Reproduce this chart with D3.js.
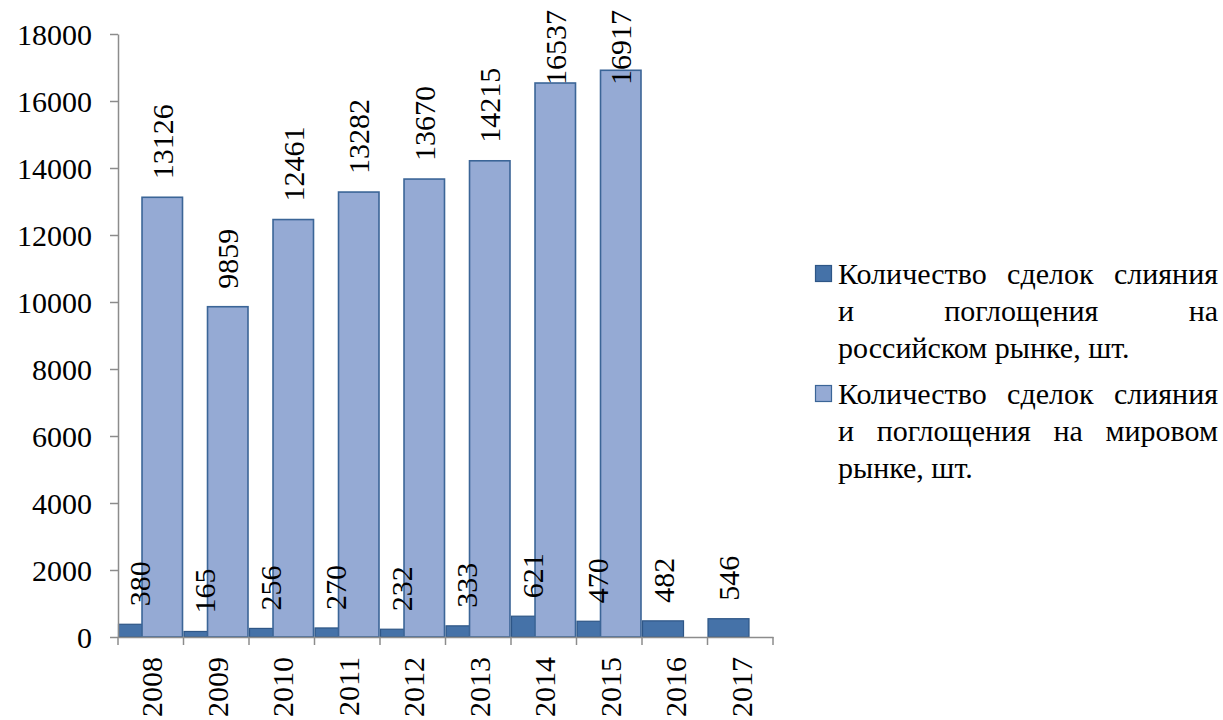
<!DOCTYPE html>
<html><head><meta charset="utf-8">
<script src="https://cdn.jsdelivr.net/npm/d3@7"></script>
</head><body style="margin:0">
<svg id="c" width="1223" height="720"></svg>
<script>
const years = ["2008","2009","2010","2011","2012","2013","2014","2015","2016","2017"];
const russia = [380,165,256,270,232,333,621,470,482,546];
const world = [13126,9859,12461,13282,13670,14215,16537,16917,null,null];
const seriesRuLines = ["Количество сделок слияния", "и поглощения на", "российском рынке, шт."];
const seriesWorldLines = ["Количество сделок слияния", "и поглощения на мировом", "рынке, шт."];
const yTicks = [0,2000,4000,6000,8000,10000,12000,14000,16000,18000];

const FONT = "Times New Roman, Liberation Serif, Tinos, serif";
const FS = 30;
const colRu = "#4572a8", strokeRu = "#2e5686";
const colW = "#95aad4", strokeW = "#3b6597";
const axisCol = "#8c8c8c";

const svg = d3.select("#c").attr("font-family", FONT);
const x = d3.scaleBand().domain(years).range([118, 773]).paddingInner(0).paddingOuter(0);
const y = d3.scaleLinear().domain([0, 18000]).range([637, 34]);
const bw = x.bandwidth();
const ruW = bw * 0.626, wW = bw * 0.618;
const styleText = sel => sel.attr("font-family", FONT).attr("font-size", FS).attr("fill", "#000");

svg.append("g").selectAll("rect").data(years.map((d,i)=>({yr:d,v:russia[i]})))
  .join("rect")
  .attr("x", d => x(d.yr) + 0.5).attr("width", ruW)
  .attr("y", d => y(d.v)).attr("height", d => y(0) - y(d.v))
  .attr("fill", colRu).attr("stroke", strokeRu).attr("stroke-width", 1.2);

const wData = years.map((d,i)=>({yr:d,v:world[i]})).filter(d => d.v != null);
svg.append("g").selectAll("rect").data(wData)
  .join("rect")
  .attr("x", d => x(d.yr) + bw - wW - 1).attr("width", wW)
  .attr("y", d => y(d.v)).attr("height", d => y(0) - y(d.v))
  .attr("fill", colW).attr("stroke", strokeW).attr("stroke-width", 1.6);

const ya = d3.axisLeft(y).tickValues(yTicks).tickSize(8).tickPadding(18).tickSizeOuter(0).tickFormat(d3.format("d"));
const gy = svg.append("g").attr("transform", "translate(118,0)").call(ya);
const xa = d3.axisBottom(x).tickSize(0).tickSizeOuter(0);
const gx = svg.append("g").attr("transform", "translate(0,637)").call(xa);
[gy, gx].forEach(g => {
  g.attr("font-family", FONT).attr("font-size", FS);
  g.selectAll("path.domain").attr("stroke", axisCol).attr("stroke-width", 1.5);
  g.selectAll("line").attr("stroke", axisCol).attr("stroke-width", 1.5);
  styleText(g.selectAll("text"));
});
gy.selectAll("text").attr("dy", "0.35em");
const bounds = years.map(d => x(d)).concat([x(years[years.length-1]) + bw]);
gx.selectAll("line.bt").data(bounds).join("line").attr("class","bt")
  .attr("x1", d => d).attr("x2", d => d).attr("y1", 0).attr("y2", 8)
  .attr("stroke", axisCol).attr("stroke-width", 1.5);
gx.selectAll(".tick text")
  .attr("transform", "translate(1,20) rotate(-90)")
  .attr("text-anchor", "end").attr("x", 0).attr("y", 0).attr("dy", "0.35em");

function addLabels(data, cxf) {
  const t = svg.append("g").selectAll("text").data(data).join("text")
    .attr("text-anchor", "start").attr("dy", "0.35em")
    .text(d => d.v);
  styleText(t);
  t.attr("transform", function(d) {
      const len = this.getComputedTextLength();
      let yb = Math.max(y(d.v) - 18, 10 + len);
      return `translate(${cxf(d)},${yb}) rotate(-90)`;
    });
}
addLabels(wData, d => x(d.yr) + bw - wW - 1 + wW / 2);
addLabels(years.map((d,i)=>({yr:d,v:russia[i]})), d => x(d.yr) + 0.5 + ruW / 2);

const lg = svg.append("g");
const tx0 = 838, tx1 = 1218, lineH = 37;
const colors = [[colRu, strokeRu],[colW, strokeW]];
const firstBase = [284, 404];
const meas = styleText(lg.append("text"));
const wl = w => { meas.text(w); return meas.node().getComputedTextLength(); };
const spaceW = wl("a a") - wl("aa");
[seriesRuLines, seriesWorldLines].forEach((lines, si) => {
  lg.append("rect").attr("x", 815.5).attr("y", firstBase[si] - 18.5).attr("width", 16).attr("height", 16)
    .attr("fill", colors[si][0]).attr("stroke", colors[si][1]).attr("stroke-width", 1.2);
  lines.forEach((line, li) => {
    const ln = line.split(" ");
    const by = firstBase[si] + li * lineH;
    const widths = ln.map(wl);
    const last = li === lines.length - 1;
    let gap = spaceW;
    if (!last && ln.length > 1) gap = (tx1 - tx0 - widths.reduce((a,b)=>a+b,0)) / (ln.length - 1);
    let xx = tx0;
    ln.forEach((w, wi) => {
      styleText(lg.append("text").attr("x", xx).attr("y", by)).text(w);
      xx += widths[wi] + gap;
    });
  });
});
meas.remove();
</script>
</body></html>
